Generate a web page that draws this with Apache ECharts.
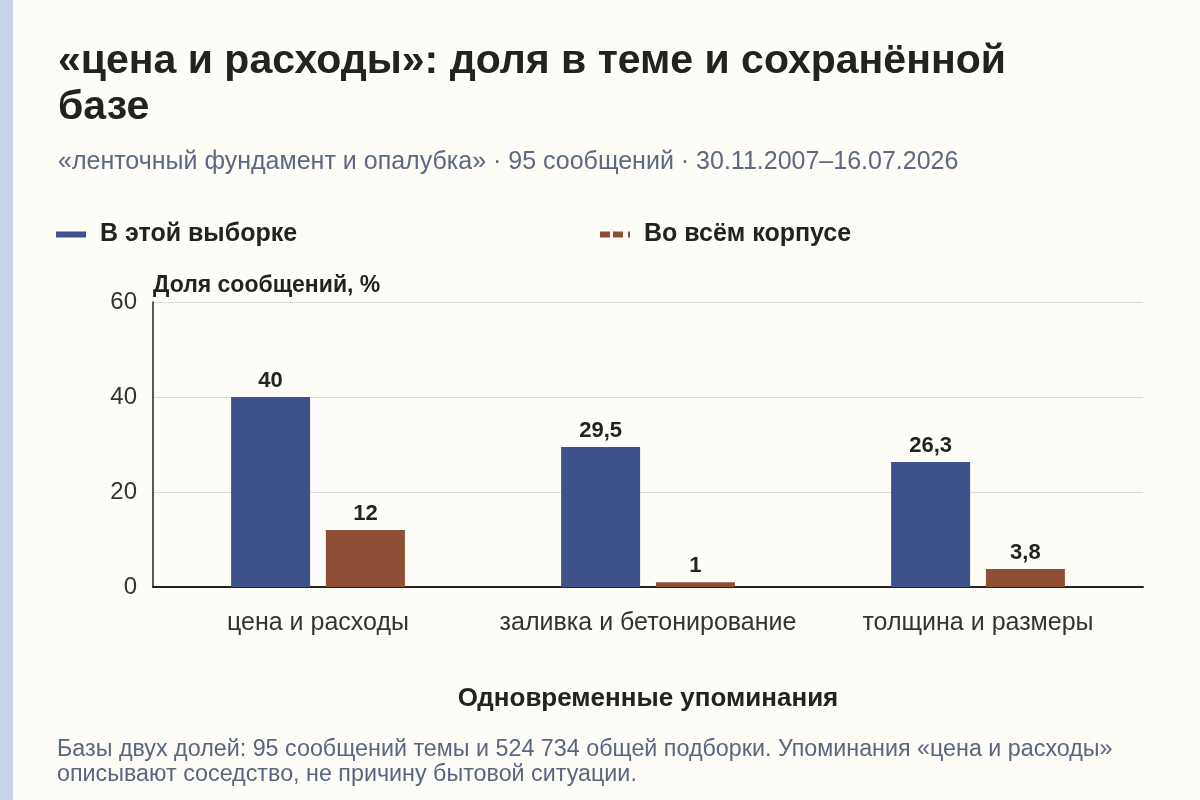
<!DOCTYPE html>
<html><head><meta charset="utf-8">
<script src="https://cdn.jsdelivr.net/npm/echarts@6/dist/echarts.min.js"></script>
<style>html,body{margin:0;padding:0;background:#fdfcf6;}#c{width:1200px;height:800px;}</style>
</head><body><div id="c"></div>
<script>
const categories = ['цена и расходы', 'заливка и бетонирование', 'толщина и размеры'];
const sampleValues = [40, 29.5, 26.3];
const corpusValues = [12, 1, 3.8];
const yTicks = [0, 20, 40, 60];
const seriesNames = ['В этой выборке', 'Во всём корпусе'];
const titleText = '«цена и расходы»: доля в теме и сохранённой\nбазе';
const subtitleText = '«ленточный фундамент и опалубка» · 95 сообщений · 30.11.2007–16.07.2026';
const footLines = ['Базы двух долей: 95 сообщений темы и 524 734 общей подборки. Упоминания «цена и расходы»', 'описывают соседство, не причину бытовой ситуации.'];

const F = '"Liberation Sans", Arial, sans-serif';
const chart = echarts.init(document.getElementById('c'));
const fmt = p => String(p.value).replace('.', ',');
chart.setOption({
  backgroundColor: '#fdfcf6',
  textStyle: { fontFamily: F },
  title: [
    { text: titleText, left: 53, top: 34, textStyle: { fontFamily: F, fontSize: 41, fontWeight: 'bold', color: '#22231f', lineHeight: 46 } },
    { text: subtitleText, left: 53, top: 145, textStyle: { fontFamily: F, fontSize: 25, fontWeight: 'normal', color: '#5d6881' } }
  ],
  legend: [
    { data: [seriesNames[0]], left: 51, top: 217, itemWidth: 30, itemHeight: 6,
      icon: 'rect', textStyle: { fontFamily: F, fontSize: 25, fontWeight: 'bold', color: '#22231f', padding: [0,0,0,9] } },
    { data: [seriesNames[1]], left: 595, top: 217, itemWidth: 30, itemHeight: 6,
      icon: 'path://M0,0H10V6H0Z M13,0H23V6H13Z M28,0H30V6H28Z', textStyle: { fontFamily: F, fontSize: 25, fontWeight: 'bold', color: '#22231f', padding: [0,0,0,9] } }
  ],
  grid: { left: 153, right: 57, top: 302, bottom: 213 },
  xAxis: {
    type: 'category', data: categories,
    name: 'Одновременные упоминания', nameLocation: 'middle', nameGap: 99,
    nameTextStyle: { fontFamily: F, fontSize: 26, fontWeight: 'bold', color: '#22231f' },
    axisLine: { lineStyle: { color: '#222', width: 2 } },
    axisTick: { alignWithLabel: true, length: 5, lineStyle: { color: '#222', width: 1.5 } },
    axisLabel: { interval: 0, fontFamily: F, fontSize: 25, color: '#333', margin: 24 }
  },
  yAxis: {
    type: 'value', min: yTicks[0], max: yTicks[yTicks.length - 1], interval: 20,
    name: 'Доля сообщений, %', nameLocation: 'end', nameGap: 5,
    nameTextStyle: { fontFamily: F, fontSize: 23, fontWeight: 'bold', color: '#22231f', align: 'left' },
    axisLine: { show: true, lineStyle: { color: '#222', width: 1.5 } },
    axisTick: { show: false },
    axisLabel: { fontFamily: F, fontSize: 24, color: '#333', margin: 16 },
    splitLine: { lineStyle: { color: '#dadada', width: 1 } }
  },
  series: [
    { name: seriesNames[0], type: 'bar', data: sampleValues, barWidth: 79, barGap: '20%',
      itemStyle: { color: '#3d5289' },
      label: { show: true, position: 'top', distance: 5, formatter: fmt, fontFamily: F, fontSize: 22, fontWeight: 'bold', color: '#22231f' } },
    { name: seriesNames[1], type: 'bar', data: corpusValues, barWidth: 79,
      itemStyle: { color: '#8e4f36' },
      label: { show: true, position: 'top', distance: 5, formatter: fmt, fontFamily: F, fontSize: 22, fontWeight: 'bold', color: '#22231f' } }
  ],
  graphic: [
    { type: 'rect', left: 0, top: 0, shape: { width: 13, height: 800 }, style: { fill: '#c9d3e8' }, silent: true },
    { type: 'text', left: 57, top: 738, style: { text: footLines[0], fontFamily: F, fontSize: 23.3, fill: '#5a6680' } },
    { type: 'text', left: 57, top: 763, style: { text: footLines[1], fontFamily: F, fontSize: 23.3, fill: '#5a6680' } }
  ]
});
</script></body></html>
